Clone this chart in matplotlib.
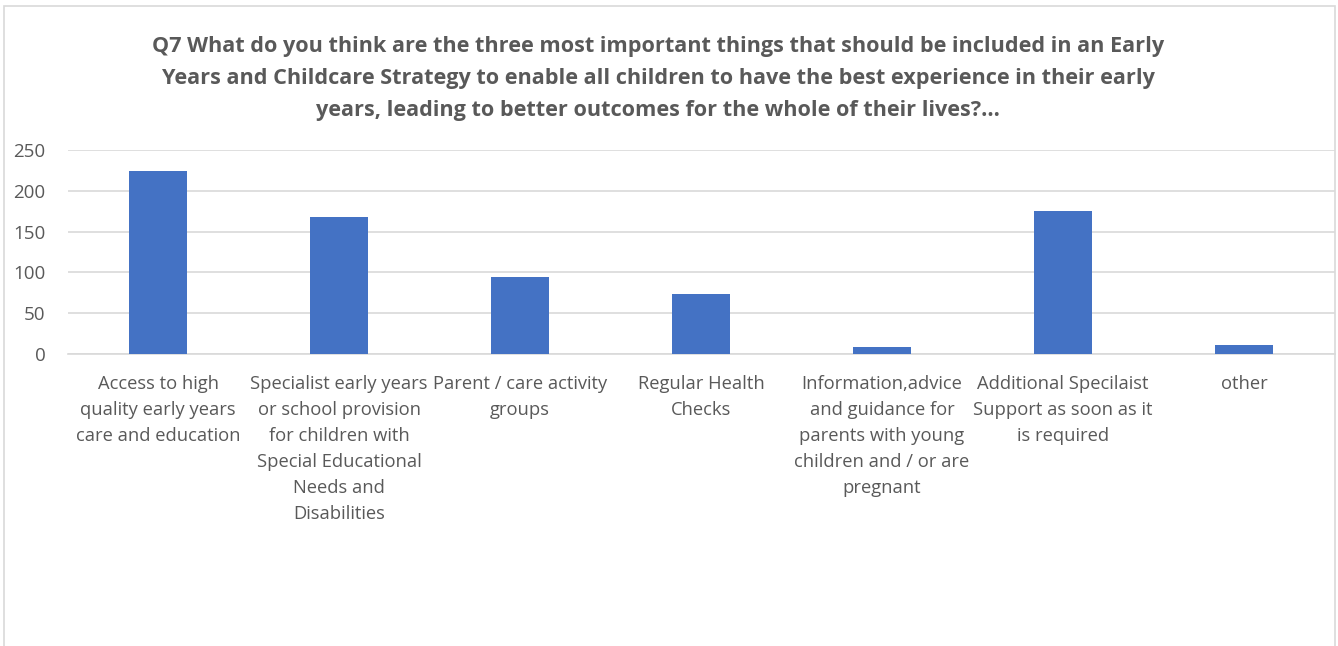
import matplotlib.pyplot as plt
from matplotlib.patches import Rectangle

categories = [
    "Access to high\nquality early years\ncare and education",
    "Specialist early years\nor school provision\nfor children with\nSpecial Educational\nNeeds and\nDisabilities",
    "Parent / care activity\ngroups",
    "Regular Health\nChecks",
    "Information,advice\nand guidance for\nparents with young\nchildren and / or are\npregnant",
    "Additional Specilaist\nSupport as soon as it\nis required",
    "other",
]
counts = [224, 168, 94, 73, 8, 175, 11]
yticks = [0, 50, 100, 150, 200, 250]

title = ("Q7 What do you think are the three most important things that should be included in an Early\n"
         "Years and Childcare Strategy to enable all children to have the best experience in their early\n"
         "years, leading to better outcomes for the whole of their lives?...")

W, H = 1338, 646
fig = plt.figure(figsize=(W / 100, H / 100), dpi=100)
plt.rcParams['font.family'] = ['Open Sans', 'DejaVu Sans']

# chart frame
fig.patches.append(Rectangle((4 / W, -0.1), 1331 / W, 1 - 6 / H + 0.1,
                             transform=fig.transFigure, fill=False,
                             edgecolor='#d9d9d9', linewidth=1.2))

ax = fig.add_axes([67.5 / W, 1 - 354 / H, 1267 / W, 204 / H])
x = list(range(len(categories)))
ax.bar(x, counts, width=0.32, color='#4472c4', zorder=3)
ax.set_xlim(-0.5, len(categories) - 0.5)
ax.set_ylim(0, 250)
ax.set_yticks(yticks)
ax.set_xticks(x)
ax.set_xticklabels(categories, fontsize=13.2, color='#595959', linespacing=1.57, va='top')
ax.tick_params(axis='y', labelsize=13.5, labelcolor='#595959', length=0, pad=16)
ax.tick_params(axis='x', length=0, pad=15)
ax.grid(axis='y', color='#d9d9d9', linewidth=1.2, zorder=0)
for s in ['top', 'right', 'left']:
    ax.spines[s].set_visible(False)
ax.spines['bottom'].set_color('#d9d9d9')
ax.spines['bottom'].set_linewidth(1.2)

fig.text(0.492, 1 - 36 / H, title, ha='center', va='top', fontsize=15.6,
         fontweight='bold', color='#595959', linespacing=1.7)

fig.savefig('out.png', dpi=100)
